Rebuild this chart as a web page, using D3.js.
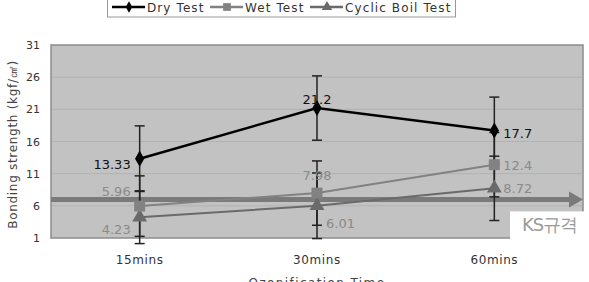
<!DOCTYPE html>
<html>
<head>
<meta charset="utf-8">
<script src="https://cdn.jsdelivr.net/npm/d3@7"></script>
<style>
  body { margin: 0; background: #fff; }
  text { font-family: "DejaVu Sans", sans-serif; }
</style>
</head>
<body>
<div class="chart"></div>
<script>
const width = 589;
const height = 282;
const margin = { top: 45, right: 6, bottom: 44, left: 51 };
const innerWidth = width - margin.left - margin.right;
const innerHeight = height - margin.top - margin.bottom;

// data
const times = ["15mins", "30mins", "60mins"];
const yTicks = [1, 6, 11, 16, 21, 26, 31];
const dryValues = [13.33, 21.2, 17.7];
const dryErrors = [5.1, 5.0, 5.2];
const wetValues = [5.96, 7.98, 12.4];
const wetErrors = [4.7, 5.0, 5.0];
const boilValues = [4.23, 6.01, 8.72];
const boilErrors = [4.1, 5.1, 5.0];
const ksValue = 7;
const ksLabel = "KS규격";

// label offsets [dx, dy, anchor] for each point
const series = [
  { name: "Dry Test", values: dryValues, errors: dryErrors, color: "#000", labelColor: "#111", marker: "diamond", width: 2.5,
    labels: [[-9, 5, "end"], [0, -9, "middle"], [9, 2, "start"]] },
  { name: "Wet Test", values: wetValues, errors: wetErrors, color: "#828282", labelColor: "#8a8a8a", marker: "square", width: 2,
    labels: [[-9, -15, "end"], [0, -18, "middle"], [9, 0, "start"]] },
  { name: "Cyclic Boil Test", values: boilValues, errors: boilErrors, color: "#6a6a6a", labelColor: "#8a8a8a", marker: "triangle", width: 2,
    labels: [[-9, 12, "end"], [9, 17, "start"], [9, 0, "start"]] }
];

const svg = d3.select(".chart").append("svg")
  .attr("width", width)
  .attr("height", height);

const g = svg.append("g")
  .attr("transform", `translate(${margin.left},${margin.top})`);

const x = d3.scalePoint()
  .domain(times)
  .range([0, innerWidth])
  .padding(0.5);

const y = d3.scaleLinear()
  .domain([1, 31])
  .range([innerHeight, 0]);

// plot area
g.append("rect")
  .attr("width", innerWidth)
  .attr("height", innerHeight)
  .attr("fill", "#c2c2c2")
  .attr("stroke", "#8c8c8c")
  .attr("stroke-width", 1.5);

g.selectAll(".grid")
  .data(yTicks.slice(1, -1))
  .enter().append("line")
  .attr("x1", 1).attr("x2", innerWidth - 1)
  .attr("y1", d => y(d)).attr("y2", d => y(d))
  .attr("stroke", "#b2b2b2")
  .attr("stroke-width", 1);

// y tick labels
g.selectAll(".ytick")
  .data(yTicks)
  .enter().append("text")
  .attr("x", -11)
  .attr("y", d => y(d) + 4)
  .attr("text-anchor", "end")
  .attr("font-size", 11)
  .attr("fill", "#333")
  .text(d => d);

// x tick labels
g.selectAll(".xtick")
  .data(times)
  .enter().append("text")
  .attr("x", d => x(d))
  .attr("y", innerHeight + 26)
  .attr("text-anchor", "middle")
  .attr("font-size", 12)
  .attr("letter-spacing", 0.6)
  .attr("fill", "#333")
  .text(d => d);

// axis titles
svg.append("text")
  .attr("transform", `translate(17,${margin.top + innerHeight / 2 + 3}) rotate(-90)`)
  .attr("text-anchor", "middle")
  .attr("font-size", 12)
  .attr("letter-spacing", 0.7)
  .attr("fill", "#444")
  .text("Bonding strength (kgf/㎠)");

svg.append("text")
  .attr("x", margin.left + innerWidth / 2)
  .attr("y", 287)
  .attr("text-anchor", "middle")
  .attr("font-size", 12)
  .attr("letter-spacing", 1.4)
  .attr("fill", "#444")
  .text("Ozonification Time");

// KS standard arrow
g.append("line")
  .attr("x1", 0)
  .attr("x2", innerWidth - 12)
  .attr("y1", y(ksValue))
  .attr("y2", y(ksValue))
  .attr("stroke", "#7a7a7a")
  .attr("stroke-width", 5);
g.append("path")
  .attr("d", `M${innerWidth - 14},${y(ksValue) - 8}L${innerWidth},${y(ksValue)}L${innerWidth - 14},${y(ksValue) + 8}Z`)
  .attr("fill", "#7a7a7a");

// white label box
g.append("rect")
  .attr("x", 459)
  .attr("y", y(ksValue) + 12)
  .attr("width", 90)
  .attr("height", 40)
  .attr("fill", "#fff");
g.append("text")
  .attr("x", 471)
  .attr("y", y(ksValue) + 32)
  .attr("font-family", "Noto Sans CJK KR")
  .attr("font-size", 18)
  .attr("letter-spacing", -1)
  .attr("fill", "#9a9a9a")
  .text(ksLabel);

// error bars
series.forEach(s => {
  const eb = g.append("g");
  s.values.forEach((v, i) => {
    const cx = x(times[i]);
    eb.append("line")
      .attr("x1", cx).attr("x2", cx)
      .attr("y1", y(v - s.errors[i])).attr("y2", y(v + s.errors[i]))
      .attr("stroke", "#222").attr("stroke-width", 1.5);
    [v - s.errors[i], v + s.errors[i]].forEach(e => {
      eb.append("line")
        .attr("x1", cx - 5).attr("x2", cx + 5)
        .attr("y1", y(e)).attr("y2", y(e))
        .attr("stroke", "#222").attr("stroke-width", 1.5);
    });
  });
});

const line = d3.line()
  .x((d, i) => x(times[i]))
  .y(d => y(d));

const markerSymbol = {
  diamond: d3.symbolDiamond,
  square: d3.symbolSquare,
  triangle: d3.symbolTriangle
};
const markerSize = { diamond: 75, square: 120, triangle: 95 };

// draw series in reverse so dry sits on top
series.slice().reverse().forEach(s => {
  g.append("path")
    .datum(s.values)
    .attr("d", line)
    .attr("fill", "none")
    .attr("stroke", s.color)
    .attr("stroke-width", s.width);

  g.selectAll(null)
    .data(s.values)
    .enter().append("path")
    .attr("transform", (d, i) => `translate(${x(times[i])},${y(d)})`)
    .attr("d", d3.symbol().type(markerSymbol[s.marker]).size(markerSize[s.marker]))
    .attr("fill", s.color);
});

// data labels
series.forEach(s => {
  g.selectAll(null)
    .data(s.values)
    .enter().append("text")
    .attr("x", (d, i) => x(times[i]) + s.labels[i][0])
    .attr("y", (d, i) => y(d) + s.labels[i][1] + 5)
    .attr("text-anchor", (d, i) => s.labels[i][2])
    .attr("font-size", 13)
    .attr("fill", s.labelColor)
    .text(d => d);
});

// legend
const legend = svg.append("g");
legend.append("rect")
  .attr("x", 107.5)
  .attr("y", -3)
  .attr("width", 348)
  .attr("height", 20)
  .attr("fill", "#fff")
  .attr("stroke", "#999");

const legendX = [112, 210, 310];
series.forEach((s, i) => {
  const lx = legendX[i];
  legend.append("line")
    .attr("x1", lx).attr("x2", lx + 33)
    .attr("y1", 7).attr("y2", 7)
    .attr("stroke", s.color)
    .attr("stroke-width", 2.5);
  legend.append("path")
    .attr("transform", `translate(${lx + 17},7)`)
    .attr("d", d3.symbol().type(markerSymbol[s.marker]).size(markerSize[s.marker] * 0.5))
    .attr("fill", s.color);
  legend.append("text")
    .attr("x", lx + 35)
    .attr("y", 11.5)
    .attr("font-size", 12)
    .attr("letter-spacing", 1.1)
    .attr("fill", "#333")
    .text(s.name);
});
</script>
</body>
</html>
